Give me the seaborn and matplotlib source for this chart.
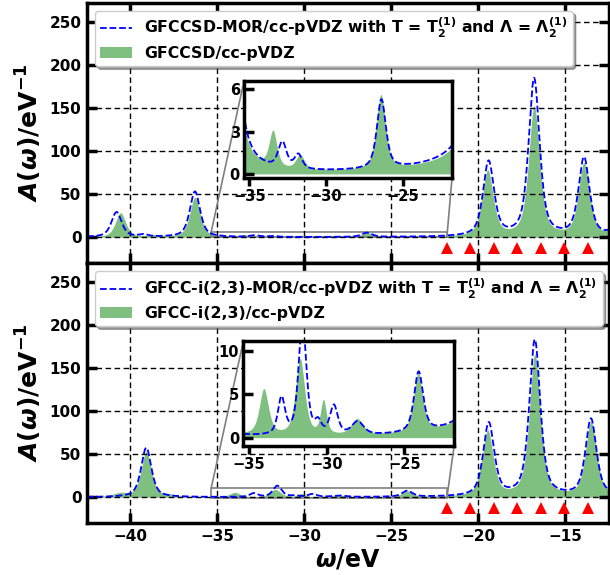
import numpy as np
import pandas as pd
import matplotlib
matplotlib.use("Agg")
import matplotlib.pyplot as plt
from matplotlib.lines import Line2D
from matplotlib.patches import Patch
from mpl_toolkits.axes_grid1.inset_locator import mark_inset
import seaborn as sns

# ---------------------------------------------------------------------------
# Spectral poles: energy (eV), peak height (eV^-1) and full width at half max (eV)
# ---------------------------------------------------------------------------
ccsd_mor_pole = [-40.80, -39.25, -36.29, -32.85, -31.81, -26.40, -19.40, -16.78, -13.91, -11.80]
ccsd_mor_height = [29.0, 2.5, 53.0, 1.8, 1.0, 4.85, 86.8, 183.0, 91.0, 25.0]
ccsd_mor_fwhm = [0.70, 0.60, 0.70, 0.65, 0.60, 0.70, 0.75, 0.75, 0.75, 0.75]

ccsd_pole = [-40.57, -38.66, -36.29, -33.43, -31.66, -26.40, -19.45, -16.78, -13.91, -11.80]
ccsd_height = [28.0, 2.0, 46.0, 2.5, 1.0, 5.2, 76.3, 150.5, 84.5, 25.0]
ccsd_fwhm = [0.70, 0.70, 0.70, 0.60, 0.65, 0.70, 0.75, 0.75, 0.75, 0.75]

i23_mor_pole = [-39.09, -32.90, -31.55, -30.55, -29.53, -28.00, -24.08, -19.39, -16.74, -13.51, -11.40]
i23_mor_height = [57.5, 4.2, 13.0, 1.3, 3.3, 1.5, 6.9, 85.0, 181.5, 89.5, 25.0]
i23_mor_fwhm = [0.70, 0.55, 0.60, 0.50, 0.60, 0.90, 0.70, 0.75, 0.75, 0.75, 0.75]

i23_pole = [-40.60, -39.09, -37.80, -34.00, -31.67, -30.17, -28.00, -24.08, -19.45, -16.74, -13.51, -11.40]
i23_height = [4.0, 52.5, 2.0, 5.2, 8.7, 3.8, 1.8, 6.7, 76.0, 164.6, 85.7, 25.0]
i23_fwhm = [1.00, 0.70, 0.80, 0.70, 0.70, 0.45, 0.90, 0.70, 0.75, 0.75, 0.75, 0.75]

# Lorentzian fraction of the pseudo-Voigt line shape
lorentz_fraction = 0.6

# Ionisation energies marked under the spectra (eV)
marker_energies = [-21.80, -20.45, -19.10, -17.75, -16.40, -15.05, -13.70]

labels_top = [r"GFCCSD-MOR/cc-pVDZ with T = $\mathbf{T_2^{(1)}}$ and Λ = $\mathbf{\Lambda_2^{(1)}}$",
              "GFCCSD/cc-pVDZ"]
labels_bot = [r"GFCC-i(2,3)-MOR/cc-pVDZ with T = $\mathbf{T_2^{(1)}}$ and Λ = $\mathbf{\Lambda_2^{(1)}}$",
              "GFCC-i(2,3)/cc-pVDZ"]


def spectrum(grid, poles, heights, fwhm):
    """Broadened spectral function: sum of pseudo-Voigt lines."""
    d = grid[None, :] - np.asarray(poles)[:, None]
    h = np.asarray(heights)[:, None]
    hw = np.asarray(fwhm)[:, None] / 2.0
    sigma = hw / np.sqrt(2.0 * np.log(2.0))
    lor = hw ** 2 / (d ** 2 + hw ** 2)
    gau = np.exp(-d ** 2 / (2.0 * sigma ** 2))
    return (h * (lorentz_fraction * lor + (1.0 - lorentz_fraction) * gau)).sum(axis=0)


omega = np.linspace(-42.5, -12.5, 3001)
df = pd.DataFrame({
    "omega": omega,
    "ccsd_mor": spectrum(omega, ccsd_mor_pole, ccsd_mor_height, ccsd_mor_fwhm),
    "ccsd": spectrum(omega, ccsd_pole, ccsd_height, ccsd_fwhm),
    "i23_mor": spectrum(omega, i23_mor_pole, i23_mor_height, i23_mor_fwhm),
    "i23": spectrum(omega, i23_pole, i23_height, i23_fwhm),
})

sns.set_style("ticks")
plt.rcParams.update({
    "font.family": ["DejaVu Sans"],
    "font.weight": "bold",
    "axes.labelweight": "bold",
    "mathtext.default": "bf",
    "axes.axisbelow": "line",
    "axes.edgecolor": "black",
    "axes.labelcolor": "black",
    "text.color": "black",
    "xtick.color": "black",
    "ytick.color": "black",
})

fig = plt.figure(figsize=(6.1, 5.75), dpi=100)
ax_top = fig.add_axes([0.1426, 0.5426, 0.855, 0.4522])
ax_bot = fig.add_axes([0.1426, 0.0904, 0.855, 0.4522], sharex=ax_top)

LINE_KW = dict(color="blue", linestyle="--", linewidth=1.3)
FILL_KW = dict(color="green", alpha=0.5, linewidth=0)


def draw_spectra(ax, col_line, col_fill):
    ax.fill_between(df["omega"], 0, df[col_fill], **FILL_KW)
    sns.lineplot(data=df, x="omega", y=col_line, ax=ax, estimator=None,
                 legend=False, **LINE_KW)


panels = [
    (ax_top, "ccsd_mor", "ccsd", labels_top, [0.400, 0.6904, 0.341, 0.1687], (-0.25, 6.55), [0, 3, 6]),
    (ax_bot, "i23_mor", "i23", labels_bot, [0.399, 0.2243, 0.3454, 0.1826], (-0.9, 11.1), [0, 5, 10]),
]

for ax, col_line, col_fill, labels, ins_rect, ins_ylim, ins_yticks in panels:
    draw_spectra(ax, col_line, col_fill)
    ax.plot(marker_energies, np.full(len(marker_energies), -12.0), linestyle="none",
            marker="^", markersize=9, color="red", markeredgewidth=0, clip_on=False)

    ax.set_xlim(-42.5, -12.5)
    ax.set_ylim(-30, 272)
    ax.set_xticks(np.arange(-40, -14, 5))
    ax.set_yticks(np.arange(0, 251, 50))
    ax.grid(True, color="black", linestyle="--", linewidth=1.0, dashes=(4, 2.5))
    ax.tick_params(direction="in", length=7, width=2.5, top=True, right=True,
                   labelsize=11, pad=4)
    for sp in ax.spines.values():
        sp.set_linewidth(2.5)
        sp.set_visible(True)
    ax.set_ylabel(r"$\boldsymbol{A}(\boldsymbol{\omega})/eV^{-1}$", fontsize=18, labelpad=4)
    ax.set_xlabel("")

    handles = [Line2D([], [], **LINE_KW), Patch(**FILL_KW)]
    leg = ax.legend(handles, labels, loc="upper left", shadow=True,
                    fancybox=True, framealpha=1.0, borderaxespad=0.5,
                    labelspacing=0.35, borderpad=0.35,
                    prop={"weight": "bold", "size": 11.3})
    leg.get_frame().set_edgecolor("0.8")

    axins = fig.add_axes(ins_rect, facecolor="white")
    axins.set_zorder(5)
    draw_spectra(axins, col_line, col_fill)
    axins.set_xlim(-35.35, -21.8)
    axins.set_ylim(*ins_ylim)
    axins.set_xticks([-35, -30, -25])
    axins.set_yticks(ins_yticks)
    axins.set_xlabel("")
    axins.set_ylabel("")
    axins.tick_params(axis="y", direction="in", length=7, width=2.5, labelsize=10.5, pad=3)
    axins.tick_params(axis="x", direction="out", length=6, width=2.5, labelsize=10.5, pad=2)
    for sp in axins.spines.values():
        sp.set_linewidth(2.5)
        sp.set_visible(True)
    mark_inset(ax, axins, loc1=2, loc2=4, fc="none", ec="0.5", lw=1.2)

ax_top.tick_params(labelbottom=False)
ax_bot.set_xlabel(r"$\boldsymbol{\omega}/eV$", fontsize=17, labelpad=3)

fig.savefig("out.png", dpi=100)
